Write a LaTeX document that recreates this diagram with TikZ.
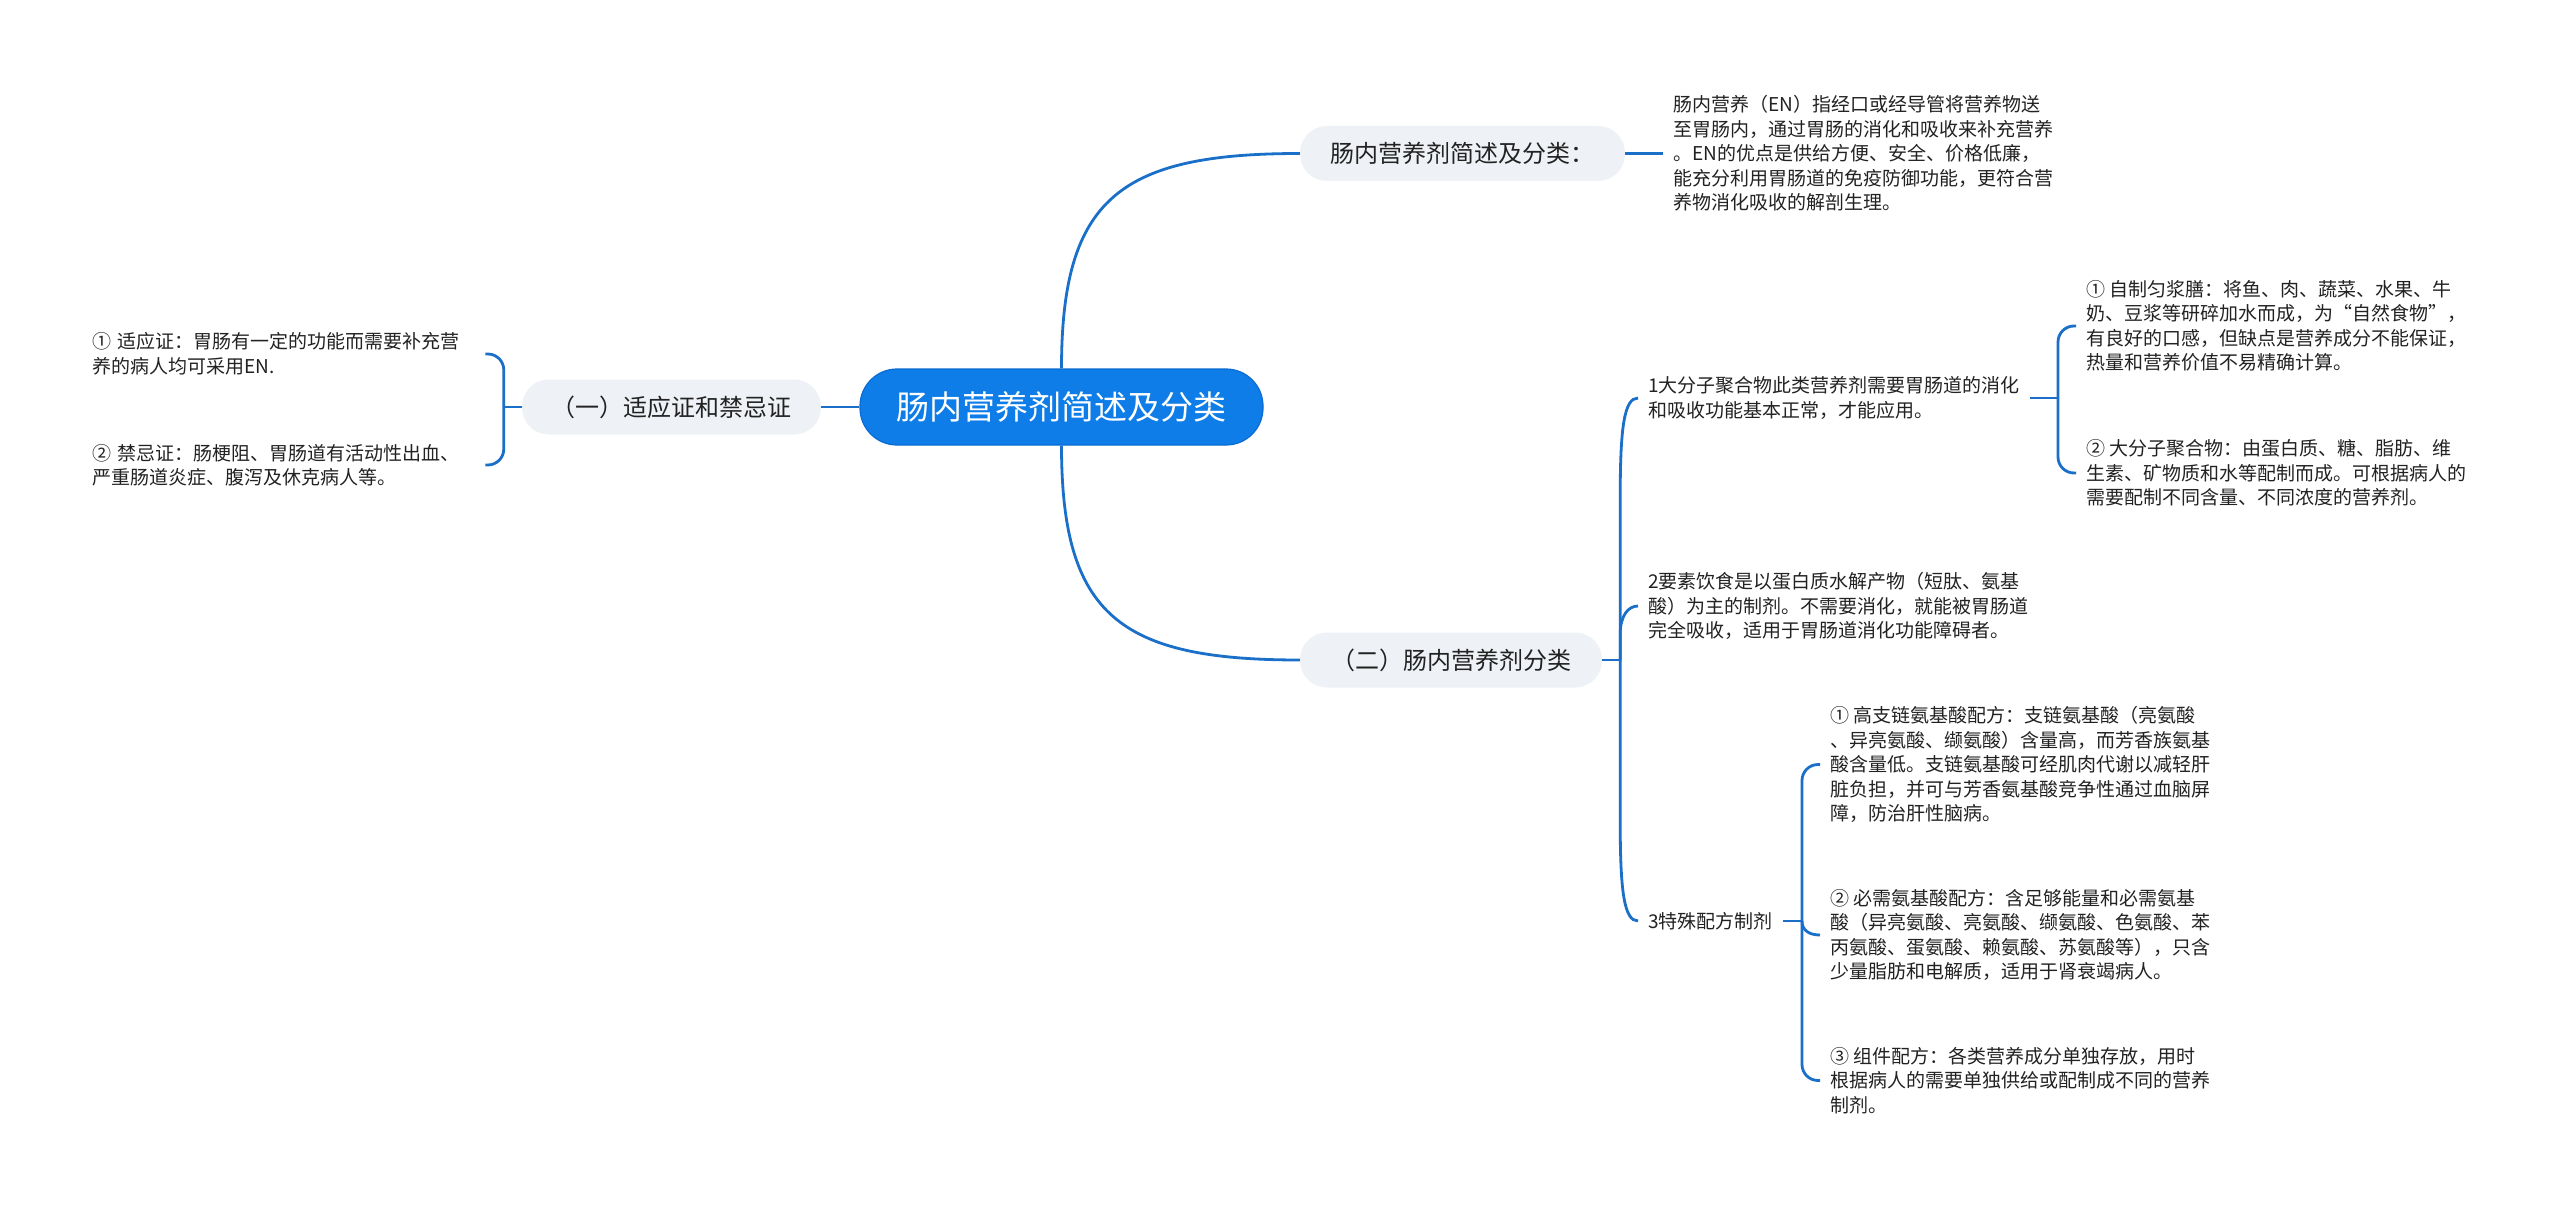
\documentclass[tikz,border=0pt]{standalone}
\usepackage{fontspec}
\setmainfont{Noto Sans CJK SC}
\usetikzlibrary{calc}
\definecolor{rootblue}{RGB}{14,125,232}
\definecolor{rootedge}{RGB}{10,108,210}
\definecolor{linec}{RGB}{26,111,201}
\definecolor{nodegray}{RGB}{238,241,245}
\definecolor{txt}{RGB}{34,34,34}
\begin{document}
\begin{tikzpicture}[x=1pt,y=-1pt,
  conn/.style={draw=linec, line width=2.8pt},
  rootnode/.style={fill=rootblue, draw=rootedge, line width=1.2pt, rounded corners=37pt,
    minimum width=403pt, minimum height=76pt, inner sep=0pt, text=white,
    font=\fontsize{33}{40}\selectfont},
  topic/.style={fill=nodegray, rounded corners=27pt, minimum height=55pt, inner sep=0pt,
    text=txt, font=\fontsize{24}{30}\selectfont},
  leaf/.style={inner xsep=10pt, inner ysep=0pt, anchor=west, align=left, text=txt,
    font=\fontsize{19}{24.5}\selectfont},
]
\useasboundingbox (0,0) rectangle (2560,1209);
\fill[white] (0,0) rectangle (2560,1209);

% main nodes
\node[rootnode] (root) at (1061.5,407) {肠内营养剂简述及分类};
\node[topic, minimum width=325pt] (A) at (1462.5,153.5) {肠内营养剂简述及分类：};
\node[topic, minimum width=302pt] (B) at (1451,660) {（二）肠内营养剂分类};
\node[topic, minimum width=299pt] (C) at (671.5,407) {（一）适应证和禁忌证};

% leaves
\node[leaf] (TA) at (1663,153.5) {肠内营养（EN）指经口或经导管将营养物送\\至胃肠内，通过胃肠的消化和吸收来补充营养\\。EN的优点是供给方便、安全、价格低廉，\\能充分利用胃肠道的免疫防御功能，更符合营\\养物消化吸收的解剖生理。};

\node[leaf] (T1) at (1638,398) {1大分子聚合物此类营养剂需要胃肠道的消化\\和吸收功能基本正常，才能应用。};
\node[leaf] (T2) at (1638,606) {2要素饮食是以蛋白质水解产物（短肽、氨基\\酸）为主的制剂。不需要消化，就能被胃肠道\\完全吸收，适用于胃肠道消化功能障碍者。};
\node[leaf] (T3) at (1638,921) {3特殊配方制剂};

\node[leaf] (T11) at (2076,326) {① 自制匀浆膳：将鱼、肉、蔬菜、水果、牛\\奶、豆浆等研碎加水而成，为“自然食物”，\\有良好的口感，但缺点是营养成分不能保证，\\热量和营养价值不易精确计算。};
\node[leaf] (T12) at (2076,473) {② 大分子聚合物：由蛋白质、糖、脂肪、维\\生素、矿物质和水等配制而成。可根据病人的\\需要配制不同含量、不同浓度的营养剂。};

\node[leaf] (T31) at (1820,764.5) {① 高支链氨基酸配方：支链氨基酸（亮氨酸\\、异亮氨酸、缬氨酸）含量高，而芳香族氨基\\酸含量低。支链氨基酸可经肌肉代谢以减轻肝\\脏负担，并可与芳香氨基酸竞争性通过血脑屏\\障，防治肝性脑病。};
\node[leaf] (T32) at (1820,935) {② 必需氨基酸配方：含足够能量和必需氨基\\酸（异亮氨酸、亮氨酸、缬氨酸、色氨酸、苯\\丙氨酸、蛋氨酸、赖氨酸、苏氨酸等），只含\\少量脂肪和电解质，适用于肾衰竭病人。};
\node[leaf] (T33) at (1820,1080.5) {③ 组件配方：各类营养成分单独存放，用时\\根据病人的需要单独供给或配制成不同的营养\\制剂。};

\node[leaf, text width=383pt] (TC1) at (82,354) {① 适应证：胃肠有一定的功能而需要补充营\\养的病人均可采用EN.};
\node[leaf, text width=383pt] (TC2) at (82,465) {② 禁忌证：肠梗阻、胃肠道有活动性出血、\\严重肠道炎症、腹泻及休克病人等。};

% connectors from root
\draw[conn] (root.north) .. controls +(0,-170) and +(-180,0) .. (A.west);
\draw[conn] (root.south) .. controls +(0,170) and +(-180,0) .. (B.west);
\draw[conn] (root.west) -- (C.east);
\draw[conn] (A.east) -- (TA.west);

% B bracket
\coordinate (sB) at ($(B.east)+(18,0)$);
\draw[conn] (B.east) -- (sB);
\draw[conn] (sB) -- ($(sB |- T1.west)+(0,100)$) .. controls +(0,-70) and +(-14,0) .. (T1.west);
\draw[conn] (sB) -- ($(sB |- T2.west)+(0,28)$) .. controls +(0,-18) and +(-10,0) .. (T2.west);
\draw[conn] (sB) -- ($(sB |- T3.west)+(0,-100)$) .. controls +(0,70) and +(-14,0) .. (T3.west);

% T1 bracket
\coordinate (s1) at ($(T1.east -| T11.west)+(-18,0)$);
\draw[conn] (T1.east) -- (s1);
\draw[conn, rounded corners=16pt] (s1) |- (T11.west);
\draw[conn, rounded corners=16pt] (s1) |- (T12.west);

% T3 bracket
\coordinate (s3) at ($(T3.east -| T31.west)+(-18,0)$);
\draw[conn] (T3.east) -- (s3);
\draw[conn, rounded corners=16pt] (s3) |- (T31.west);
\draw[conn] (s3) .. controls +(0,10) and +(-10,0) .. (T32.west);
\draw[conn, rounded corners=16pt] (s3) |- (T33.west);

% C bracket
\coordinate (sC) at ($(C.west)+(-18,0)$);
\draw[conn] (C.west) -- (sC);
\draw[conn, rounded corners=16pt] (sC) |- (TC1.east);
\draw[conn, rounded corners=16pt] (sC) |- (TC2.east);
\end{tikzpicture}
\end{document}
